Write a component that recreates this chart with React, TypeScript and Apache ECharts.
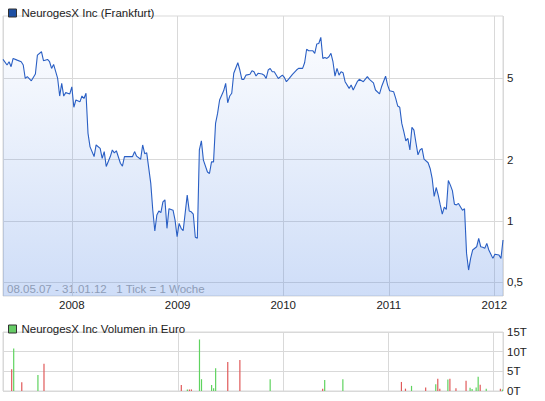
import React, { useEffect, useRef } from 'react';
import * as echarts from 'echarts';

const startDate = Date.UTC(2007, 4, 8);
const endDate = Date.UTC(2012, 0, 31);
const weekMs = 7 * 24 * 3600 * 1000;

// weeks since 08.05.07 and price in EUR
const priceWeeks = [
  0, 2, 3, 4, 5, 7, 9, 10, 11, 12,
  14, 16, 17, 19, 20, 22, 23, 24, 25, 27,
  28, 29, 30, 31, 33, 34, 35, 36, 38, 39,
  40, 41, 42, 43, 45, 46, 48, 49, 50, 51,
  53, 54, 55, 56, 58, 59, 60, 62, 64, 65,
  66, 68, 69, 70, 71, 73, 74, 75, 76, 77,
  78, 79, 80, 81, 82, 84, 85, 86, 87, 88,
  89, 91, 92, 93, 94, 95, 96, 97, 98, 99,
  101, 102, 103, 104, 105, 106, 107, 109, 110, 111,
  112, 113, 114, 116, 117, 118, 119, 120, 122, 123,
  124, 125, 126, 128, 129, 130, 131, 132, 133, 134,
  136, 138, 139, 140, 141, 143, 145, 146, 148, 149,
  150, 151, 153, 154, 155, 156, 157, 158, 159, 160,
  161, 162, 163, 164, 165, 166, 167, 168, 169, 171,
  172, 173, 175, 176, 178, 180, 181, 183, 184, 186,
  187, 189, 190, 191, 193, 194, 195, 196, 197, 198,
  199, 200, 201, 202, 203, 204, 205, 206, 207, 208,
  210, 211, 212, 213, 214, 215, 216, 217, 218, 219,
  220, 221, 222, 223, 224, 225, 227, 228, 229, 230,
  231, 232, 234, 235, 236, 237, 238, 239, 240, 242,
  243, 245, 246, 247
];
const priceValues = [
  6.20, 5.82, 6.04, 5.71, 6.27, 6.15, 6.04, 5.82, 5.00, 5.10,
  4.87, 5.26, 6.51, 6.76, 6.11, 6.20, 6.04, 5.60, 5.86, 5.00,
  4.10, 4.73, 4.10, 4.26, 4.20, 4.55, 3.61, 3.92, 3.84, 4.10,
  3.99, 4.23, 2.69, 2.31, 2.07, 2.36, 2.27, 2.03, 2.19, 1.85,
  2.07, 2.23, 2.16, 2.21, 1.92, 1.86, 2.07, 2.07, 2.07, 2.19,
  2.08, 2.01, 2.36, 2.14, 2.16, 1.53, 1.13, 0.893, 1.07, 1.12,
  1.10, 1.24, 1.27, 0.921, 1.15, 1.13, 1.01, 0.838, 0.974, 0.921,
  0.896, 1.34, 1.12, 1.11, 1.08, 0.832, 0.823, 2.23, 2.47, 1.99,
  1.74, 1.71, 1.95, 1.95, 3.01, 3.37, 3.92, 4.35, 4.73, 3.80,
  4.10, 4.23, 5.30, 5.97, 5.50, 4.95, 4.95, 5.19, 5.24, 5.45,
  5.39, 5.14, 5.30, 5.26, 5.19, 5.00, 5.50, 5.60, 5.39, 5.39,
  5.00, 5.19, 5.06, 4.82, 4.95, 5.24, 5.50, 5.60, 5.60, 5.97,
  6.95, 6.84, 6.84, 6.64, 7.37, 7.42, 7.95, 6.27, 6.34, 6.27,
  6.39, 6.64, 6.04, 5.13, 5.60, 5.19, 5.39, 5.33, 4.82, 4.47,
  4.64, 4.39, 4.82, 4.95, 4.82, 5.10, 4.95, 4.76, 4.39, 4.20,
  4.55, 5.13, 4.64, 4.35, 4.30, 3.99, 3.66, 3.61, 3.01, 2.74,
  2.47, 2.54, 2.23, 2.88, 2.79, 2.42, 2.11, 2.23, 2.27, 2.01,
  1.93, 1.81, 1.62, 1.32, 1.46, 1.34, 1.20, 1.08, 1.17, 1.14,
  1.58, 1.50, 1.41, 1.21, 1.20, 1.22, 1.13, 1.15, 0.694, 0.575,
  0.656, 0.721, 0.748, 0.823, 0.748, 0.743, 0.735, 0.777, 0.721, 0.656,
  0.687, 0.681, 0.656, 0.807
];

// weekly volume in thousand EUR, up = price rose that week
const volumeWeeks = [
  4, 5, 9, 17, 20, 88, 91, 92, 93, 97,
  98, 103, 104, 105, 111, 117, 132, 158, 159, 168,
  197, 199, 202, 209, 214, 215, 216, 220, 221, 224,
  229, 231, 232, 234, 235, 236, 239, 246, 247
];
const volumeValues = [
  5.5, 10.8, 2.2, 4.05, 6.9, 1.5, 0.4, 0.4, 0.4, 13.1,
  3.0, 1.5, 0.7, 5.8, 7.4, 7.9, 3.0, 0.6, 2.8, 3.0,
  2.3, 0.6, 1.3, 0.9, 1.7, 3.1, 0.6, 2.9, 3.1, 0.7,
  2.6, 0.8, 0.5, 0.9, 3.6, 1.6, 0.6, 0.6, 0.4
];
const volumeUp = [
  false, true, false, true, false, false, true, false, false, true,
  true, true, true, true, false, false, true, false, true, true,
  false, false, true, false, true, false, false, true, false, false,
  false, true, true, true, true, false, true, false, true
];

const priceTicks = [0.5, 1, 2, 5];
const volumeTicks = { min: 0, max: 15, interval: 5 };

const font = '"Liberation Sans", Arial, sans-serif';
const gridColor = '#d9d9d9';

const yearLabel = (v: number) => {
  const d = new Date(v);
  return d.getUTCMonth() === 0 && d.getUTCDate() === 1 ? String(d.getUTCFullYear()) : '';
};

const App: React.FC = () => {
  const chartRef = useRef<HTMLDivElement>(null);

  useEffect(() => {
    document.body.style.margin = '0';
    if (!chartRef.current) return;
    const chart = echarts.init(chartRef.current, null, { renderer: 'svg' });

    const priceData = priceWeeks.map((w, i) => [startDate + w * weekMs, priceValues[i]]);
    const volumeData = volumeWeeks.map((w, i) => ({
      value: [startDate + w * weekMs, volumeValues[i]],
      itemStyle: { color: volumeUp[i] ? '#5fd35f' : '#e05a5a' }
    }));

    const timeAxis = (gridIndex: number) => ({
      type: 'time',
      gridIndex,
      min: startDate,
      max: endDate,
      minInterval: 365 * 24 * 3600 * 1000,
      axisLine: { show: false },
      axisTick: { show: false },
      splitLine: { show: true, lineStyle: { color: gridColor, width: 1 } },
      axisLabel: {
        show: gridIndex === 0,
        formatter: yearLabel,
        color: '#222',
        fontFamily: font,
        fontSize: 11.5,
        margin: 3,
        showMinLabel: false,
        showMaxLabel: false
      }
    });

    const option = {
      animation: false,
      legend: [
        {
          left: 3,
          top: 2,
          icon: 'rect',
          itemWidth: 8,
          itemHeight: 8,
          selectedMode: false,
          textStyle: { color: '#222', fontFamily: font, fontSize: 11.5 },
          data: [{
            name: 'NeurogesX Inc (Frankfurt)',
            itemStyle: { color: '#1d4fa3', borderColor: '#333', borderWidth: 1 }
          }]
        },
        {
          left: 3,
          top: 318,
          icon: 'rect',
          itemWidth: 8,
          itemHeight: 8,
          selectedMode: false,
          textStyle: { color: '#222', fontFamily: font, fontSize: 11.5 },
          data: [{
            name: 'NeurogesX Inc Volumen in Euro',
            itemStyle: { color: '#66cc66', borderColor: '#333', borderWidth: 1 }
          }]
        }
      ],
      grid: [
        { left: 3, right: 42, top: 16, bottom: 105, show: true, borderColor: gridColor, borderWidth: 1 },
        { left: 3, right: 42, top: 332, bottom: 10, show: true, borderColor: gridColor, borderWidth: 1 }
      ],
      xAxis: [timeAxis(0), timeAxis(1)],
      yAxis: [
        {
          type: 'log',
          gridIndex: 0,
          position: 'right',
          min: 0.429,
          max: 10.12,
          axisLine: { show: false },
          axisTick: { show: false, customValues: priceTicks },
          axisLabel: {
            customValues: priceTicks,
            formatter: (v: number) => String(v).replace('.', ','),
            color: '#222',
            fontFamily: font,
            fontSize: 11.5,
            margin: 4
          },
          splitLine: { show: true, lineStyle: { color: gridColor, width: 1 } }
        },
        {
          type: 'value',
          gridIndex: 1,
          position: 'right',
          min: volumeTicks.min,
          max: volumeTicks.max,
          interval: volumeTicks.interval,
          axisLine: { show: false },
          axisTick: { show: false },
          axisLabel: {
            formatter: (v: number) => v + 'T',
            color: '#222',
            fontFamily: font,
            fontSize: 11.5,
            margin: 4
          },
          splitLine: { show: true, lineStyle: { color: gridColor, width: 1 } }
        }
      ],
      graphic: [
        {
          type: 'text',
          left: 7,
          top: 283,
          silent: true,
          style: {
            text: '08.05.07 - 31.01.12   1 Tick = 1 Woche',
            fill: '#a3a3a3',
            font: '11.5px "Liberation Sans", Arial, sans-serif'
          }
        }
      ],
      series: [
        {
          name: 'NeurogesX Inc (Frankfurt)',
          type: 'line',
          xAxisIndex: 0,
          yAxisIndex: 0,
          data: priceData,
          showSymbol: false,
          symbol: 'none',
          lineStyle: { color: '#2a5fc4', width: 1.1 },
          itemStyle: { color: '#1d4fa3' },
          areaStyle: {
            origin: 'start',
            color: new echarts.graphic.LinearGradient(0, 0, 0, 1, [
              { offset: 0, color: 'rgba(90,140,230,0.04)' },
              { offset: 1, color: 'rgba(90,140,230,0.42)' }
            ])
          }
        },
        {
          name: 'NeurogesX Inc Volumen in Euro',
          type: 'bar',
          xAxisIndex: 1,
          yAxisIndex: 1,
          barWidth: 1.2,
          data: volumeData,
          itemStyle: { color: '#66cc66' }
        }
      ]
    };

    chart.setOption(option as any);
    return () => {
      chart.dispose();
    };
  }, []);

  return <div ref={chartRef} style={{ width: '545px', height: '401px' }} />;
};

export default App;
